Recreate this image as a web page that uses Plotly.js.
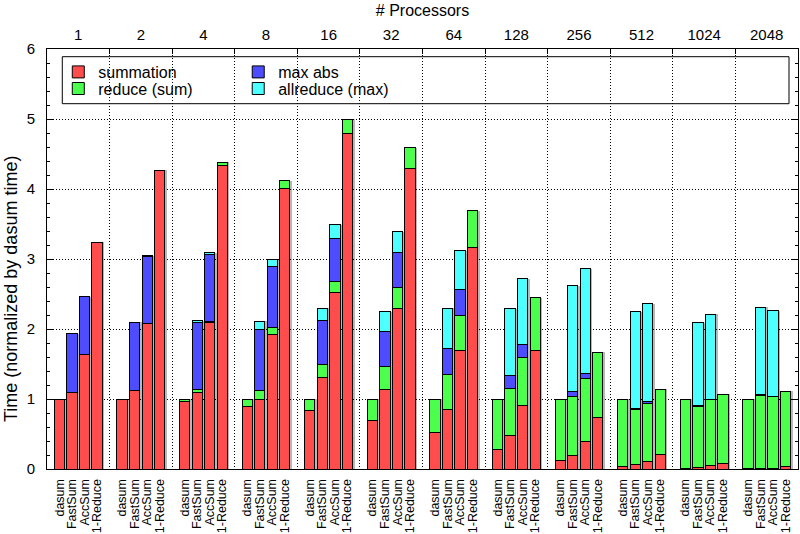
<!DOCTYPE html>
<html>
<head>
<meta charset="utf-8">
<script src="https://cdn.plot.ly/plotly-3.0.1.min.js"></script>
<style>html,body{margin:0;padding:0;background:#fff;}#chart{width:800px;height:534px;}</style>
</head>
<body>
<div id="chart"></div>
<script>
// Categories
var processors = ["1", "2", "4", "8", "16", "32", "64", "128", "256", "512", "1024", "2048"];
var methods = ["dasum", "FastSum", "AccSum", "1-Reduce"];

// Series values, one row per processor count, columns follow `methods`
var summation = [
  [1.00, 1.10, 1.63, 3.24],
  [0.99, 1.12, 2.08, 4.27],
  [0.97, 1.09, 2.09, 4.34],
  [0.89, 1.00, 1.92, 4.01],
  [0.83, 1.31, 2.52, 4.79],
  [0.70, 1.14, 2.29, 4.29],
  [0.52, 0.85, 1.69, 3.17],
  [0.28, 0.48, 0.91, 1.69],
  [0.12, 0.20, 0.40, 0.73],
  [0.03, 0.06, 0.11, 0.21],
  [0.01, 0.02, 0.05, 0.08],
  [0.005, 0.01, 0.01, 0.04]
];
var reduceSum = [
  [0, 0, 0, 0],
  [0.01, 0, 0, 0],
  [0.03, 0.04, 0.02, 0.04],
  [0.11, 0.12, 0.10, 0.11],
  [0.17, 0.18, 0.16, 0.21],
  [0.30, 0.32, 0.31, 0.30],
  [0.48, 0.50, 0.50, 0.52],
  [0.72, 0.67, 0.69, 0.76],
  [0.88, 0.84, 0.89, 0.94],
  [0.97, 0.79, 0.82, 0.93],
  [0.99, 0.88, 0.94, 0.99],
  [0.995, 1.04, 1.02, 1.07]
];
var maxAbs = [
  [0, 0.83, 0.83, 0],
  [0, 0.97, 0.96, 0],
  [0, 0.96, 0.95, 0],
  [0, 0.88, 0.87, 0],
  [0, 0.63, 0.61, 0],
  [0, 0.50, 0.49, 0],
  [0, 0.37, 0.37, 0],
  [0, 0.18, 0.18, 0],
  [0, 0.07, 0.08, 0],
  [0, 0.02, 0.03, 0],
  [0, 0.01, 0.01, 0],
  [0, 0.01, 0.01, 0]
];
var allreduceMax = [
  [0, 0, 0, 0],
  [0, 0.01, 0.01, 0],
  [0, 0.03, 0.03, 0],
  [0, 0.11, 0.10, 0],
  [0, 0.18, 0.20, 0],
  [0, 0.29, 0.30, 0],
  [0, 0.58, 0.56, 0],
  [0, 0.96, 0.94, 0],
  [0, 1.51, 1.49, 0],
  [0, 1.38, 1.40, 0],
  [0, 1.18, 1.21, 0],
  [0, 1.25, 1.22, 0]
];

// Layout helpers: each group spans 5 slots, bars at slots 1..4
var SLOT = 5, BARW = 0.82;
var xs = [], xlabels = [], groupCenters = [], dividers = [];
processors.forEach(function (p, g) {
  methods.forEach(function (m, b) { xs.push(g * SLOT + b + 1); xlabels.push(m); });
  groupCenters.push(g * SLOT + SLOT / 2);
  if (g > 0) dividers.push(g * SLOT);
});
function flat(rows) {
  var out = [];
  rows.forEach(function (r) { r.forEach(function (v) { out.push(v === 0 ? null : v); }); });
  return out;
}
// stack totals (used for the soft drop shadow behind each bar)
var totals = [];
summation.forEach(function (r, g) {
  r.forEach(function (v, b) {
    totals.push(v + reduceSum[g][b] + maxAbs[g][b] + allreduceMax[g][b]);
  });
});

var FONT = "Liberation Sans, Arial, Helvetica, sans-serif";
var series = [
  {name: "summation", data: summation, color: "#ff4d4d", legend: "legend"},
  {name: "reduce (sum)", data: reduceSum, color: "#4dff4d", legend: "legend2"},
  {name: "max abs", data: maxAbs, color: "#4d4dff", legend: "legend3"},
  {name: "allreduce (max)", data: allreduceMax, color: "#4dffff", legend: "legend4"}
];
var traces = [{
  type: "bar", x: xs.map(function (v) { return v + 0.16; }), y: totals, width: BARW,
  xaxis: "x", yaxis: "y", showlegend: false, hoverinfo: "skip",
  marker: {color: "rgba(0,0,0,0.28)", line: {width: 0}}
}];
series.forEach(function (s) {
  traces.push({
    type: "bar", name: s.name, x: xs, y: flat(s.data), width: BARW,
    xaxis: "x3", yaxis: "y", legend: s.legend,
    marker: {color: s.color, line: {color: "#000", width: 1}},
    hoverinfo: "y+name"
  });
});
// invisible trace to activate the top label axis
traces.push({type: "scatter", x: [0, 60], y: [0, 0], xaxis: "x2", mode: "none", showlegend: false, hoverinfo: "skip"});

var L = 46.7, R = 2, T = 49.3, B = 64.7;
var W = 800 - L - R, H = 534 - T - B;
function px(x) { return (x - L) / W; }
function py(y) { return (534 - B - y) / H; }
function legendAt(x, y) {
  return {
    orientation: "v", x: px(x), y: py(y), xanchor: "left", yanchor: "top",
    bgcolor: "rgba(0,0,0,0)", borderwidth: 0,
    font: {family: FONT, size: 16, color: "#000"}
  };
}
var DOT = "1px,2px";

var layout = {
  width: 800, height: 534,
  margin: {l: L, r: R, t: T, b: B, pad: 0},
  paper_bgcolor: "#fff", plot_bgcolor: "#fff",
  font: {family: FONT, size: 15, color: "#000"},
  barmode: "stack",
  showlegend: true,
  legend: legendAt(58, 55.3),
  legend2: legendAt(58, 71.9),
  legend3: legendAt(238, 55.3),
  legend4: legendAt(238, 71.9),
  xaxis: {
    range: [0, 60], tickmode: "array", tickvals: xs, ticktext: xlabels,
    tickangle: -90, ticks: "", ticklabelstandoff: 4, showgrid: false, zeroline: false,
    showline: true, linecolor: "#000", linewidth: 1, mirror: true,
    tickfont: {family: FONT, size: 12.5, color: "#000"}
  },
  xaxis2: {
    overlaying: "x", side: "top", range: [0, 60], tickmode: "array",
    tickvals: groupCenters, ticktext: processors, ticks: "", ticklabelstandoff: 5,
    showgrid: false, zeroline: false, showline: false,
    tickfont: {family: FONT, size: 15, color: "#000"},
    title: {text: "# Processors", font: {family: FONT, size: 16, color: "#000"}, standoff: 5}
  },
  xaxis3: {
    overlaying: "x", side: "top", range: [0, 60], tickmode: "array",
    tickvals: dividers, showticklabels: false, ticks: "inside", ticklen: 5,
    tickcolor: "#000", showgrid: true, gridcolor: "#000", griddash: DOT,
    gridwidth: 1, zeroline: false, showline: false
  },
  yaxis: {
    range: [0, 6], tickmode: "linear", tick0: 0, dtick: 1,
    ticks: "inside", ticklen: 6, tickcolor: "#000", ticklabelstandoff: 8,
    minor: {dtick: 0.2, ticks: "inside", ticklen: 3, tickcolor: "#000", showgrid: false},
    showgrid: true, gridcolor: "#000", griddash: DOT, gridwidth: 1,
    zeroline: false, showline: true, linecolor: "#000", linewidth: 1, mirror: "ticks",
    tickfont: {family: FONT, size: 15, color: "#000"}
  },
  annotations: [{
    text: "Time (normalized by dasum time)", xref: "paper", yref: "paper",
    x: px(10), y: py(289), xanchor: "center", yanchor: "middle",
    textangle: -90, showarrow: false,
    font: {family: FONT, size: 18, color: "#000"}
  }],
  shapes: [{
    type: "rect", xref: "paper", yref: "paper",
    x0: px(62), x1: px(789), y0: py(104), y1: py(57),
    line: {color: "#000", width: 1}, fillcolor: "rgba(0,0,0,0)", layer: "above"
  }]
};

Plotly.newPlot("chart", traces, layout, {displayModeBar: false, staticPlot: true});
</script>
</body>
</html>
